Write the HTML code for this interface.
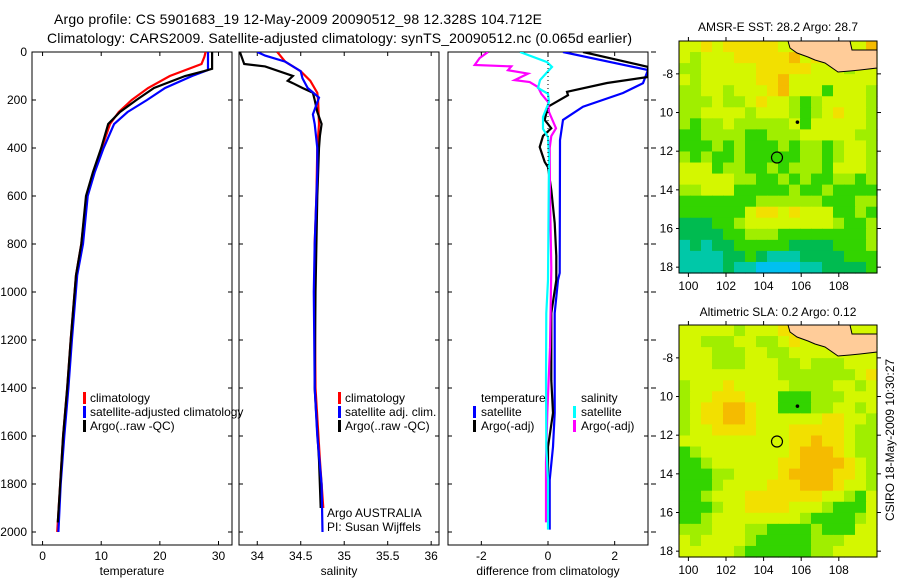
<!DOCTYPE html>
<html><head><meta charset="utf-8"><style>
body{margin:0;background:#fff}
svg{display:block;font-family:"Liberation Sans",sans-serif}
</style></head><body>
<svg id="c" width="900" height="580" viewBox="0 0 900 580">
<text x="54" y="24" font-size="14" textLength="488">Argo profile: CS 5901683_19 12-May-2009 20090512_98 12.328S 104.712E</text>
<text x="47" y="43" font-size="14" textLength="585">Climatology: CARS2009. Satellite-adjusted climatology: synTS_20090512.nc (0.065d earlier)</text>
<g id="plots"></g>
<text x="778" y="31" font-size="12" text-anchor="middle">AMSR-E SST: 28.2 Argo: 28.7</text>
<text x="778" y="316" font-size="12" text-anchor="middle">Altimetric SLA: 0.2 Argo: 0.12</text>
<text transform="translate(894,440) rotate(-90)" font-size="12" text-anchor="middle">CSIRO 18-May-2009 10:30:27</text>
</svg>
<script>
// ---- data ----
const depthTicks=[0,200,400,600,800,1000,1200,1400,1600,1800,2000];
const tempTicks=[0,10,20,30];
const salTicks=[34,34.5,35,35.5,36];
const diffTicks=[-2,0,2];
const tClimD=[0,20,50,100,150,200,250,300,400,500,600,800,930,1200,1400,1600,1800,2000];
const tClimV=[27.8,27.6,27.1,21.7,18,15.2,13.0,11.5,10.1,8.7,7.5,6.6,5.7,4.8,4.2,3.5,3.0,2.5];
const tSatD=[0,75,100,150,200,250,300,400,500,600,800,930,1200,1400,1600,1800,2000];
const tSatV=[28.2,28.2,25.5,20.9,17.8,14.5,12.2,10.4,8.9,7.7,6.9,5.9,5.0,4.4,3.7,3.1,2.7];
const tArgoD=[0,70,80,100,150,200,250,300,400,500,600,800,930,1200,1400,1600,1800,1960];
const tArgoV=[28.9,28.9,27.5,24.3,19,16,13.2,11.2,10.0,8.6,7.4,6.6,5.7,4.8,4.2,3.5,3.0,2.6];
const sClimD=[0,40,80,120,170,200,300,400,600,800,1000,1400,1700,1900];
const sClimV=[34.23,34.32,34.5,34.61,34.69,34.7,34.71,34.69,34.68,34.66,34.66,34.67,34.72,34.76];
const sSatD=[0,15,40,80,110,150,190,210,260,300,400,500,800,1000,1400,1600,1800,2000];
const sSatV=[34.0,34.09,34.32,34.5,34.52,34.58,34.71,34.69,34.64,34.66,34.69,34.69,34.66,34.65,34.66,34.69,34.74,34.75];
const sArgoD=[0,50,60,100,120,130,150,170,200,250,300,350,400,600,1000,1400,1700,1900];
const sArgoV=[33.8,33.85,34.09,34.41,34.35,34.41,34.52,34.64,34.66,34.69,34.74,34.72,34.71,34.69,34.67,34.66,34.71,34.73];
const dTSatD=[0,75,130,171,228,283,367,921,950,1088,1504,1645,1783,1990];
const dTSatV=[0.45,3,2.85,2.25,1.05,0.45,0.36,0.35,0.3,0.2,0.2,0.15,0.05,0.05];
const dTArgoD=[0,62,104,129,166,180,228,283,318,350,396,458,480,575,713,850,950,1088,1367,1504,1645,1950];
const dTArgoV=[1.05,3,3,1.77,0.57,0.6,0,-0.1,0.1,-0.15,-0.25,-0.1,0,0.1,0.2,0.25,0.25,0.1,0.1,0.15,0,0];
const dSSatD=[0,42,62,80,117,150,174,208,271,320,354,438,950,1088,1367,1645,1783,1990];
const dSSatV=[-0.84,-0.03,0.12,0,-0.24,-0.3,0,0.03,-0.15,-0.15,0,0.03,0,-0.05,-0.06,-0.05,0,0];
const dSArgoD=[0,25,54,60,76,90,117,125,146,174,208,250,318,350,400,600,900,1230,1504,1710,1960];
const dSArgoV=[-1.8,-2.05,-2.2,-1.1,-1.2,-0.6,-1.0,-0.55,-0.3,-0.2,0,0.03,0.24,0.1,0.05,0.06,0.1,0.06,-0.02,-0.06,-0.06];
const lonTicks=[100,102,104,106,108];
const latTicks=[-8,-10,-12,-14,-16,-18];
const sstGrid=["aaoaoooooaaopaaaap","abaaaooooopaoaaaaa","bbaaaaaoooooaaabaa","abaaaaaoopaaaaaaaa","bbaabaaaopaaacaaab","bbbabbaoaabcbaaaab","bbaaaabaaabcbaoaab","bcbbabbbbbacaaaaab","ccbbbbccbbbaaaaabb","cccbcbcccbcbbcbaab","bcbccbcccccbbcbaab","aaacbbccbcbbbcaaab","aaaaabbccbcbccbbcb","bbaaacccccbccbcccc","cccccccbbbbbbcccbb","ccccccaooaoaaaccbc","dddccbaaaaaaaabccb","ddddccbbbccccccccb","ededdcccccddddcccb","eeeeddcdeeeddddccc","eeeedeeffffeeddddc"];
const slaGrid=["aaaaabaaaoooaaaaaa","aabbbaabbaoaaaaaaa","aaabbbaabbaaaaaaaa","aaabbbaaabbabbbaaa","aaaaaaaaabbbbbbbao","baaaoaaaaabbbbaaba","baaoooaaacccbbbaaa","baooppoaacccbbaaba","baooppoaaaaaaooaab","baaooooaaaoooooabb","aaaaaaaaaaoopooabb","cbaaaaaaaaopppoabb","ccbaaaaaaooppppoab","cccbbaaaaoppppooab","cccbaaaaooopppoaab","ccbaaaoooooooaabca","cccbaaooooaaabccca","ccbaaaaaaaabccccba","bbbaaabbccccbcccaa","abaaaabcccccbbbaaa","aaaaabccccccbbaaaa"];
const argoLon=104.712, argoLat=-12.328;
// ---- drawing ----
const NS='http://www.w3.org/2000/svg';
const G=document.getElementById('plots');
function mk(tag,at,par){const e=document.createElementNS(NS,tag);for(const k in at)e.setAttribute(k,at[k]);(par||G).appendChild(e);return e;}
const Y0=52,Y1=545;
const yD=d=>Y0+d*0.24;
function panel(x0,x1,vmin,vmax,ticks,label,name){
  const sx=v=>x0+(v-vmin)/(vmax-vmin)*(x1-x0);
  const g=mk('g',{});
  
  
  mk('rect',{x:x0,y:Y0,width:x1-x0,height:Y1-Y0,fill:'none',stroke:'#000','stroke-width':1},g);
  ticks.forEach(t=>{const x=sx(t);
    mk('line',{x1:x,x2:x,y1:Y1,y2:Y1-4,stroke:'#000'},g);
    mk('line',{x1:x,x2:x,y1:Y0,y2:Y0+4,stroke:'#000'},g);
    const tx=mk('text',{x:x,y:560,'font-size':12,'text-anchor':'middle'},g);tx.textContent=t;
    
    });
  depthTicks.forEach(d=>{const y=yD(d);
    mk('line',{x1:x0,x2:x0+4,y1:y,y2:y,stroke:'#000'},g);
    mk('line',{x1:x1,x2:x1-4,y1:y,y2:y,stroke:'#000'},g);});
  const lt=mk('text',{x:(x0+x1)/2,y:575,'font-size':12,'text-anchor':'middle'},g);lt.textContent=label;
  
  
  return {sx,g,x0,x1};
}
function series(p,ds,vs,col,name){
  const cp='clip'+name;
  const c=mk('clipPath',{id:cp});mk('rect',{x:p.x0,y:Y0,width:p.x1-p.x0,height:Y1-Y0},c);
  const pts=ds.map((d,i)=>p.sx(vs[i]).toFixed(1)+','+yD(d).toFixed(1)).join(' ');
  const l=mk('polyline',{points:pts,fill:'none',stroke:col,'stroke-width':2.2,'clip-path':'url(#'+cp+')'},p.g);
  
  
}
function txt(x,y,s,name,sz,anchor){const t=mk('text',{x:x,y:y,'font-size':sz||12,'text-anchor':anchor||'start'});t.textContent=s;
  
  return t;}
function legMark(x,y,col){mk('rect',{x:x,y:y-10,width:3,height:12,fill:col});}
depthTicks.forEach(d=>txt(27,yD(d)+4,String(d),'depth-tick-label',12,'end'));
const p1=panel(32,232,-1.8,32.3,tempTicks,'temperature','temperature');
series(p1,tClimD,tClimV,'#f00','temp-climatology-line');
series(p1,tSatD,tSatV,'#00f','temp-satellite-line');
series(p1,tArgoD,tArgoV,'#000','temp-argo-line');
const p2=panel(239,439,33.79,36.09,salTicks,'salinity','salinity');
series(p2,sClimD,sClimV,'#f00','sal-climatology-line');
series(p2,sArgoD,sArgoV,'#000','sal-argo-line');
series(p2,sSatD,sSatV,'#00f','sal-satellite-line');
const p3=panel(448,648,-3,3,diffTicks,'difference from climatology','difference');
mk('line',{x1:p3.sx(0),x2:p3.sx(0),y1:Y0,y2:yD(500),stroke:'#000','stroke-dasharray':'1,3'});
series(p3,dTSatD,dTSatV,'#00f','diff-temp-satellite-line');
series(p3,dTArgoD,dTArgoV,'#000','diff-temp-argo-line');
series(p3,dSArgoD,dSArgoV,'#f0f','diff-sal-argo-line');
series(p3,dSSatD,dSSatV,'#0ff','diff-sal-satellite-line');
depthTicks.forEach(d=>mk('line',{x1:651,x2:656,y1:yD(d),y2:yD(d),stroke:'#000'}));
legMark(83,402,'#f00');txt(90,402,'climatology','legend-climatology');
legMark(83,416,'#00f');txt(90,416,'satellite-adjusted climatology','legend-satellite-adjusted');
legMark(83,430,'#000');txt(90,430,'Argo(..raw -QC)','legend-argo');
legMark(338,402,'#f00');txt(345,402,'climatology','legend2-climatology');
legMark(338,416,'#00f');txt(345,416,'satellite adj. clim.','legend2-satellite');
legMark(338,430,'#000');txt(345,430,'Argo(..raw -QC)','legend2-argo');
txt(327,517,'Argo AUSTRALIA','float-owner-label');
txt(327,531,'PI: Susan Wijffels','pi-label');
txt(481,402,'temperature','legend3-temperature-header');
legMark(473,416,'#00f');txt(481,416,'satellite','legend3-temp-satellite');
legMark(473,430,'#000');txt(481,430,'Argo(-adj)','legend3-temp-argo');
txt(581,402,'salinity','legend3-salinity-header');
legMark(573,416,'#0ff');txt(581,416,'satellite','legend3-sal-satellite');
legMark(573,430,'#f0f');txt(581,430,'Argo(-adj)','legend3-sal-argo');
const pal={a:'#d4f700',b:'#a0ee00',c:'#33d400',d:'#00bb50',e:'#00c8a8',f:'#00c0f0',o:'#f2e000',p:'#f5bb00'};
function map(y0,grid,name){
  const x0=679,x1=877,y1=y0+232;
  const lx=v=>x0+(v-99.5)*18.8;
  const ly=v=>y0+(-6.3-v)*19.33;
  const g=mk('g',{});
  
  
  const rows=grid.length,cols=grid[0].length,cw=(x1-x0)/cols,ch=(y1-y0)/rows;
  grid.forEach((r,i)=>{for(let j=0;j<cols;j++)mk('rect',{x:(x0+j*cw).toFixed(2),y:(y0+i*ch).toFixed(2),width:(cw+0.6).toFixed(2),height:(ch+0.6).toFixed(2),fill:pal[r[j]]},g);});
  const land=[[788,0],[790,7],[797,12],[808,16],[815,19],[825,22],[838,31],[850,30],[860,29],[877,27],[877,9],[852,9],[850,0]];
  mk('polygon',{points:land.map(p=>p[0]+','+(y0+p[1])).join(' '),fill:'#ffcc99',stroke:'#000','stroke-width':1},g);
  mk('rect',{x:x0,y:y0,width:x1-x0,height:y1-y0,fill:'none',stroke:'#000'},g);
  lonTicks.forEach(v=>{const x=lx(v);mk('line',{x1:x,x2:x,y1:y1,y2:y1+4,stroke:'#000'},g);mk('line',{x1:x,x2:x,y1:y0,y2:y0-4,stroke:'#000'},g);
    const t=mk('text',{x:x,y:y1+17,'font-size':12,'text-anchor':'middle'},g);t.textContent=v;});
  latTicks.forEach(v=>{const y=ly(v);mk('line',{x1:x0,x2:x0-3,y1:y,y2:y,stroke:'#000'},g);mk('line',{x1:x1,x2:x1+4,y1:y,y2:y,stroke:'#000'},g);
    const t=mk('text',{x:x0-6,y:y+4,'font-size':12,'text-anchor':'end'},g);t.textContent=(v==-8?'-8':String(-v));});
  const cc=mk('circle',{cx:lx(argoLon),cy:ly(argoLat),r:5.5,fill:'none',stroke:'#000','stroke-width':1.2},g);
  
  
  mk('circle',{cx:lx(105.8),cy:ly(-10.5),r:1.8,fill:'#000'},g);
}
map(41,sstGrid,'sst-map');
map(325,slaGrid,'sla-map');
</script>
</body></html>
